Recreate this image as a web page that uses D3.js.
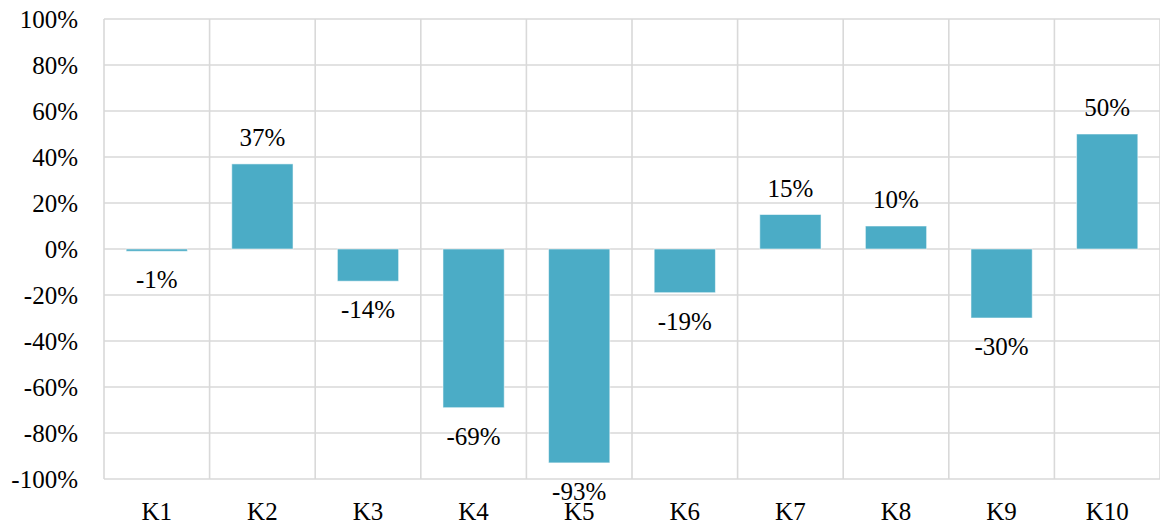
<!DOCTYPE html>
<html>
<head>
<meta charset="utf-8">
<script src="https://cdn.jsdelivr.net/npm/d3@7"></script>
<style>
  html, body { margin: 0; padding: 0; background: #fff; }
  svg { display: block; }
  text { font-family: "Liberation Serif", "Times New Roman", serif; fill: #000; }
</style>
</head>
<body>
<svg id="chart" width="1160" height="525"></svg>
<script>
// Change per category (as fraction)
const categories = ["K1", "K2", "K3", "K4", "K5", "K6", "K7", "K8", "K9", "K10"];
const values = [-0.01, 0.37, -0.14, -0.69, -0.93, -0.19, 0.15, 0.10, -0.30, 0.50];
const yTicks = [1, 0.8, 0.6, 0.4, 0.2, 0, -0.2, -0.4, -0.6, -0.8, -1];

const W = 1160, H = 525;
const margin = { top: 19, right: 0, bottom: 46, left: 104 };
const innerW = W - margin.left - margin.right;
const innerH = H - margin.top - margin.bottom;
const FONT = "'Liberation Serif', 'Times New Roman', serif";
const FS = "25px";

const svg = d3.select("#chart");
const g = svg.append("g").attr("transform", `translate(${margin.left},${margin.top})`);

const x = d3.scaleBand().domain(categories).range([0, innerW]).paddingInner(0.42).paddingOuter(0.21);
const xGrid = d3.scaleBand().domain(categories).range([0, innerW]).padding(0);
const y = d3.scaleLinear().domain([-1, 1]).range([innerH, 0]);

// percent with a plain hyphen for negatives
const fmt = v => Math.round(v * 100) + "%";
const gridColor = "#d9d9d9";

// horizontal gridlines
g.append("g").selectAll("line").data(yTicks).join("line")
  .attr("x1", 0).attr("x2", innerW)
  .attr("y1", d => y(d)).attr("y2", d => y(d))
  .attr("stroke", gridColor).attr("stroke-width", 1.6);

// vertical category separators
const sep = categories.map(c => xGrid(c)).concat([innerW]);
g.append("g").selectAll("line").data(sep).join("line")
  .attr("x1", d => d).attr("x2", d => d)
  .attr("y1", 0).attr("y2", innerH)
  .attr("stroke", gridColor).attr("stroke-width", 1.6);

// y axis labels
const yAxis = d3.axisLeft(y).tickValues(yTicks).tickFormat(fmt).tickSize(0).tickPadding(26);
const ya = g.append("g").call(yAxis);
ya.select(".domain").remove();
ya.attr("font-family", null).attr("font-size", null);
ya.selectAll("text").style("font-size", FS).style("font-family", FONT).attr("fill", "#000").attr("dy", "0.33em");

// x axis labels
const xAxis = d3.axisBottom(xGrid).tickSize(0).tickPadding(23);
const xa = g.append("g").attr("transform", `translate(0,${innerH})`).call(xAxis);
xa.select(".domain").remove();
xa.attr("font-family", null).attr("font-size", null);
xa.selectAll("text").style("font-size", FS).style("font-family", FONT).attr("fill", "#000");

// bars with a thin light edge
const data = categories.map((c, i) => ({ c, v: values[i] }));
g.append("g").selectAll("rect").data(data).join("rect")
  .attr("x", d => x(d.c))
  .attr("width", x.bandwidth())
  .attr("y", d => y(Math.max(0, d.v)))
  .attr("height", d => Math.abs(y(d.v) - y(0)))
  .attr("fill", "#4bacc6")
  .attr("stroke", "rgba(255,255,255,0.55)")
  .attr("stroke-width", 1);

// value labels
g.append("g").selectAll("text").data(data).join("text")
  .attr("x", d => x(d.c) + x.bandwidth() / 2)
  .attr("y", d => d.v >= 0 ? y(d.v) - 18 : y(d.v) + 37)
  .attr("text-anchor", "middle")
  .style("font-size", FS)
  .style("font-family", FONT)
  .text(d => fmt(d.v));
</script>
</body>
</html>
